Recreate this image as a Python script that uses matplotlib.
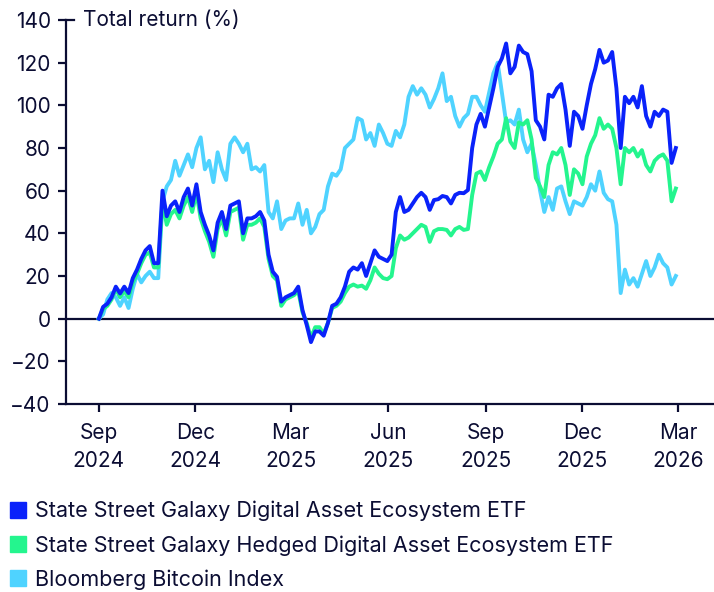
import matplotlib.pyplot as plt
import matplotlib.transforms as mtransforms
from matplotlib.lines import Line2D
import pandas as pd

# values sampled every 4 days from 1 Sep 2024
dates = pd.date_range("2024-09-01", periods=137, freq="4D")

galaxy = [
    0, 5.5, 7, 10, 15, 11.8, 15, 12, 19, 23, 28, 32, 34, 26, 26, 60, 48, 53, 55, 50,
    57, 61, 53, 63, 50, 44, 39, 32, 45, 50, 42, 53, 54, 55, 40, 47, 47, 48, 50, 46,
    30, 22, 19.6, 8, 10, 11, 12, 15, 4, -3, -11, -6, -6, -8, -2, 6, 7, 10, 15, 22,
    24, 23, 26, 20, 26, 32, 29, 28, 27, 30, 50, 57, 50, 51, 54, 57, 59, 57, 51, 55.6,
    56, 57.5, 57, 54, 58, 59, 58.8, 60.3, 80, 91, 96, 90, 99, 108, 118, 122, 129, 115, 118, 128,
    125, 124, 116, 93, 90, 84, 105, 104, 108, 110, 98, 81, 97, 95, 89, 100, 110, 117, 126, 120,
    121, 125, 108, 80, 104, 101, 104, 99, 109, 95, 90, 97, 95, 98, 97, 73, 80,
]
hedged = [
    0, 4.5, 6, 9, 14, 10, 13, 10, 17, 21, 26, 30, 31, 24, 24, 55, 44, 49, 51, 47,
    53, 57, 50, 59, 47, 41, 36, 29, 42, 47, 39, 50, 51, 52, 37, 44, 44, 45, 47, 43,
    28, 20, 18, 6, 9, 10, 11, 13, 3, -2, -9, -4, -4, -7, -2, 5, 6, 8, 12, 15,
    16, 15, 15.5, 14, 18, 24, 21, 19, 18.5, 20, 33, 39, 37, 38, 40, 42, 44, 43, 36, 41,
    42, 42, 41.6, 39, 42, 43, 41.6, 42, 58, 68, 69, 65, 71, 76, 82, 84, 94, 83, 80, 92,
    91, 93, 84, 66, 62, 57, 72, 78, 77, 80, 72, 58, 70, 68, 63, 76, 82, 86, 94, 89,
    91, 89, 80, 63, 80, 78, 80, 76, 79, 72, 69, 74, 76, 77, 74, 55, 61,
]
bitcoin = [
    0, 2, 9, 12, 10, 6, 10, 5, 14, 21, 17, 20, 22, 19, 19, 55, 62, 65, 74, 67,
    72, 77, 71, 80, 85, 70, 74, 64, 78, 70, 65, 82, 85, 82, 78, 82, 70, 71, 69, 72,
    50, 47, 55, 42, 46, 47, 47, 54, 44, 51, 40, 43, 49, 51, 62, 68, 67, 70, 80, 82,
    84, 94, 93, 84, 87, 81, 91, 87, 82, 81, 88, 85, 91, 104, 109, 105, 108, 105, 99, 103,
    108, 115, 102, 104, 95, 90, 94, 96, 104, 104, 100, 97, 106, 115, 120, 106, 92, 93, 91, 98,
    84, 78, 82, 72, 60, 50, 57, 51, 61, 62, 55, 49, 55, 54, 53, 57, 63, 60, 69, 59,
    56, 55, 44, 12, 23, 16, 19, 15, 21, 27, 20, 24, 30, 26, 24, 16, 20,
]

names = [
    "State Street Galaxy Digital Asset Ecosystem ETF",
    "State Street Galaxy Hedged Digital Asset Ecosystem ETF",
    "Bloomberg Bitcoin Index",
]
colors = ["#0A22FA", "#24F58E", "#4FD3FF"]

tick_dates = pd.to_datetime(["2024-09-01", "2024-12-01", "2025-03-01", "2025-06-01",
                             "2025-09-01", "2025-12-01", "2026-03-01"])
tick_labels = ["Sep\n2024", "Dec\n2024", "Mar\n2025", "Jun\n2025",
               "Sep\n2025", "Dec\n2025", "Mar\n2026"]

navy = "#0B0D33"
plt.rcParams["font.family"] = ["Inter", "DejaVu Sans"]
plt.rcParams["text.color"] = navy

fig = plt.figure(figsize=(7.14, 5.92), dpi=100)
ax = fig.add_axes([0.0924, 0.3176, 0.9076, 0.6486])

ax.plot(dates, bitcoin, color=colors[2], lw=2.8, zorder=2)
ax.plot(dates, hedged, color=colors[1], lw=2.8, zorder=3)
ax.plot(dates, galaxy, color=colors[0], lw=2.8, zorder=4)
ax.axhline(0, color=navy, lw=1.6, zorder=1)

ax.set_ylim(-40, 140)
ax.set_yticks(range(-40, 141, 20))
ax.set_xlim(pd.Timestamp("2024-08-01"), pd.Timestamp("2026-04-04"))
ax.set_xticks(tick_dates)
ax.set_xticklabels(tick_labels, linespacing=1.45)

for side in ["top", "right"]:
    ax.spines[side].set_visible(False)
for side in ["left", "bottom"]:
    ax.spines[side].set_color(navy)
    ax.spines[side].set_linewidth(1.6)
ax.tick_params(axis="both", colors=navy, labelcolor=navy, labelsize=15,
               length=6, width=1.6)
ax.tick_params(axis="x", pad=8)
ax.tick_params(axis="y", pad=5)

# little dash to the right of the top tick, then the axis title
trans = mtransforms.blended_transform_factory(ax.transAxes, ax.transData)
ax.plot([0, 0.012], [140, 140], color=navy, lw=1.6, transform=trans, clip_on=False)
ax.text(0.027, 140, "Total return (%)", transform=trans, va="center", ha="left",
        fontsize=15, color=navy)

handles = [Line2D([], [], marker="s", linestyle="none", markersize=11,
                  markerfacecolor=c, markeredgecolor=c) for c in colors]
fig.legend(handles, names, loc="upper left", bbox_to_anchor=(0.012, 0.154),
           frameon=False, fontsize=15.5, handlelength=0.85, handletextpad=0.4,
           labelspacing=0.64, borderpad=0, borderaxespad=0)

fig.savefig("out.png", dpi=100)
